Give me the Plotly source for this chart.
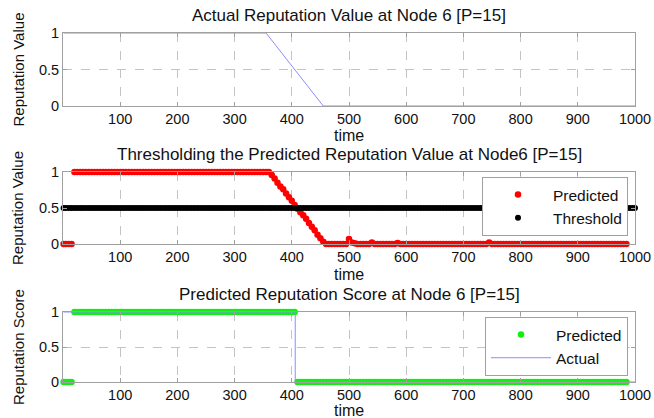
import plotly.graph_objects as go

# ---------------- data ----------------
time_pred = [1] + list(range(5, 990, 5))          # 1, 5, 10, ..., 985
pred_value = ([0, 0, 0, 0] + [1] * 69 +
              [0.96, 0.91, 0.85, 0.80, 0.76, 0.70, 0.65, 0.60, 0.54, 0.49,
               0.44, 0.40, 0.35, 0.29, 0.24, 0.19, 0.13, 0.08, 0.03, 0.0] +
              [0] * 7 + [0.07, 0.02, 0.01] + [0] * 5 + [0.02] + [0] * 8 +
              [0.015] + [0] * 31 + [0.02] + [0] * 48)

time_thr = [1] + list(range(5, 1001, 5))           # 1, 5, ..., 1000
threshold_level = 0.5
thr_value = [threshold_level] * len(time_thr)

actual_time = [1, 355, 455, 1000]
actual_value = [1, 1, 0, 0]

actual_score_time = [1, 406, 1000]
actual_score = [1, 0, 0]

pred_score = [1 if v >= threshold_level else 0 for v in pred_value]

x_ticks = [100, 200, 300, 400, 500, 600, 700, 800, 900, 1000]
y_ticks = [0, 0.5, 1]
y_ticktext = ["0", "0.5", "1"]

titles = ["Actual Reputation Value at Node 6 [P=15]",
          "Thresholding the Predicted Reputation Value at Node6 [P=15]",
          "Predicted Reputation Score at Node 6 [P=15]"]
ytitles = ["Reputation Value", "Reputation Value", "Reputation Score"]

# ---------------- figure ----------------
W, H = 654, 418
L, R = 63, 19
FONT = "Liberation Sans, Arial, Helvetica, sans-serif"
RED = "#ff0000"
GREEN = "#10f010"
BLUE = "#8c8cff"

# plot areas in pixels (top, bottom)
areas = [(33, 106), (172, 244), (312, 382)]
xtitle_offsets = [30, 30, 28]

fig = go.Figure()

fig.add_trace(go.Scatter(x=actual_time, y=actual_value, mode="lines",
                         line=dict(color=BLUE, width=1), showlegend=False,
                         xaxis="x", yaxis="y"))

fig.add_trace(go.Scatter(x=time_pred, y=pred_value, mode="markers", name="Predicted",
                         marker=dict(color=RED, size=6.5), cliponaxis=False,
                         xaxis="x2", yaxis="y2", legend="legend"))
fig.add_trace(go.Scatter(x=time_thr, y=thr_value, mode="markers", name="Threshold",
                         marker=dict(color="#000000", size=6), cliponaxis=False,
                         xaxis="x2", yaxis="y2", legend="legend"))

fig.add_trace(go.Scatter(x=time_pred, y=pred_score, mode="markers", name="Predicted",
                         marker=dict(color=GREEN, size=6.5), cliponaxis=False,
                         xaxis="x3", yaxis="y3", legend="legend2"))
fig.add_trace(go.Scatter(x=actual_score_time, y=actual_score, mode="lines", name="Actual",
                         line=dict(color=BLUE, width=1, shape="hv"),
                         xaxis="x3", yaxis="y3", legend="legend2"))

axis_common = dict(showline=True, linecolor="#a0a0a0", linewidth=1, mirror="ticks",
                   ticks="inside", ticklen=4, tickcolor="#a0a0a0", automargin=False,
                   showgrid=True, gridcolor="#c4c4c4", griddash="dash", gridwidth=1,
                   zeroline=False, tickfont=dict(size=14.5, color="#111", family=FONT))

layout = dict(width=W, height=H, margin=dict(l=L, r=R, t=0, b=0, autoexpand=False),
              paper_bgcolor="white", plot_bgcolor="white",
              font=dict(family=FONT, color="#111"))

annotations = []
for i, (top, bot) in enumerate(areas):
    sfx = "" if i == 0 else str(i + 1)
    dom = [1 - bot / H, 1 - top / H]
    layout["xaxis" + sfx] = dict(axis_common, domain=[0, 1], range=[0, 1000],
                                 tickvals=x_ticks, anchor="y" + sfx)
    layout["yaxis" + sfx] = dict(axis_common, domain=dom, range=[0, 1],
                                 tickvals=y_ticks, ticktext=y_ticktext, anchor="x" + sfx)
    # subplot title
    annotations.append(dict(text=titles[i], xref="paper", yref="paper", x=0.5,
                            y=1 - (top - 18) / H, xanchor="center", yanchor="middle",
                            showarrow=False, font=dict(size=17, family=FONT, color="#111")))
    # x title
    annotations.append(dict(text="time", xref="paper", yref="paper", x=0.5,
                            y=1 - (bot + xtitle_offsets[i]) / H, xanchor="center",
                            yanchor="middle", showarrow=False,
                            font=dict(size=16, family=FONT, color="#111")))
    # y title
    annotations.append(dict(text=ytitles[i], xref="paper", yref="paper",
                            x=(18 - L) / (W - L - R), y=1 - (top + bot) / 2 / H,
                            xanchor="center", yanchor="middle", textangle=-90,
                            showarrow=False, font=dict(size=15, family=FONT, color="#111")))

legend_common = dict(bgcolor="white", bordercolor="#a0a0a0", borderwidth=1,
                     font=dict(size=15.5, family=FONT, color="#111"),
                     itemwidth=60, xanchor="right", yanchor="top",
                     x=(628 - L) / (W - L - R), tracegroupgap=0)
layout["legend"] = dict(legend_common, y=1 - 177 / H)
layout["legend2"] = dict(legend_common, y=1 - 317 / H)
layout["annotations"] = annotations

fig.update_layout(**layout)
fig.write_html("out.html", config={"displayModeBar": False},
               post_script="document.body.style.margin='0';document.body.style.overflow='hidden';")
